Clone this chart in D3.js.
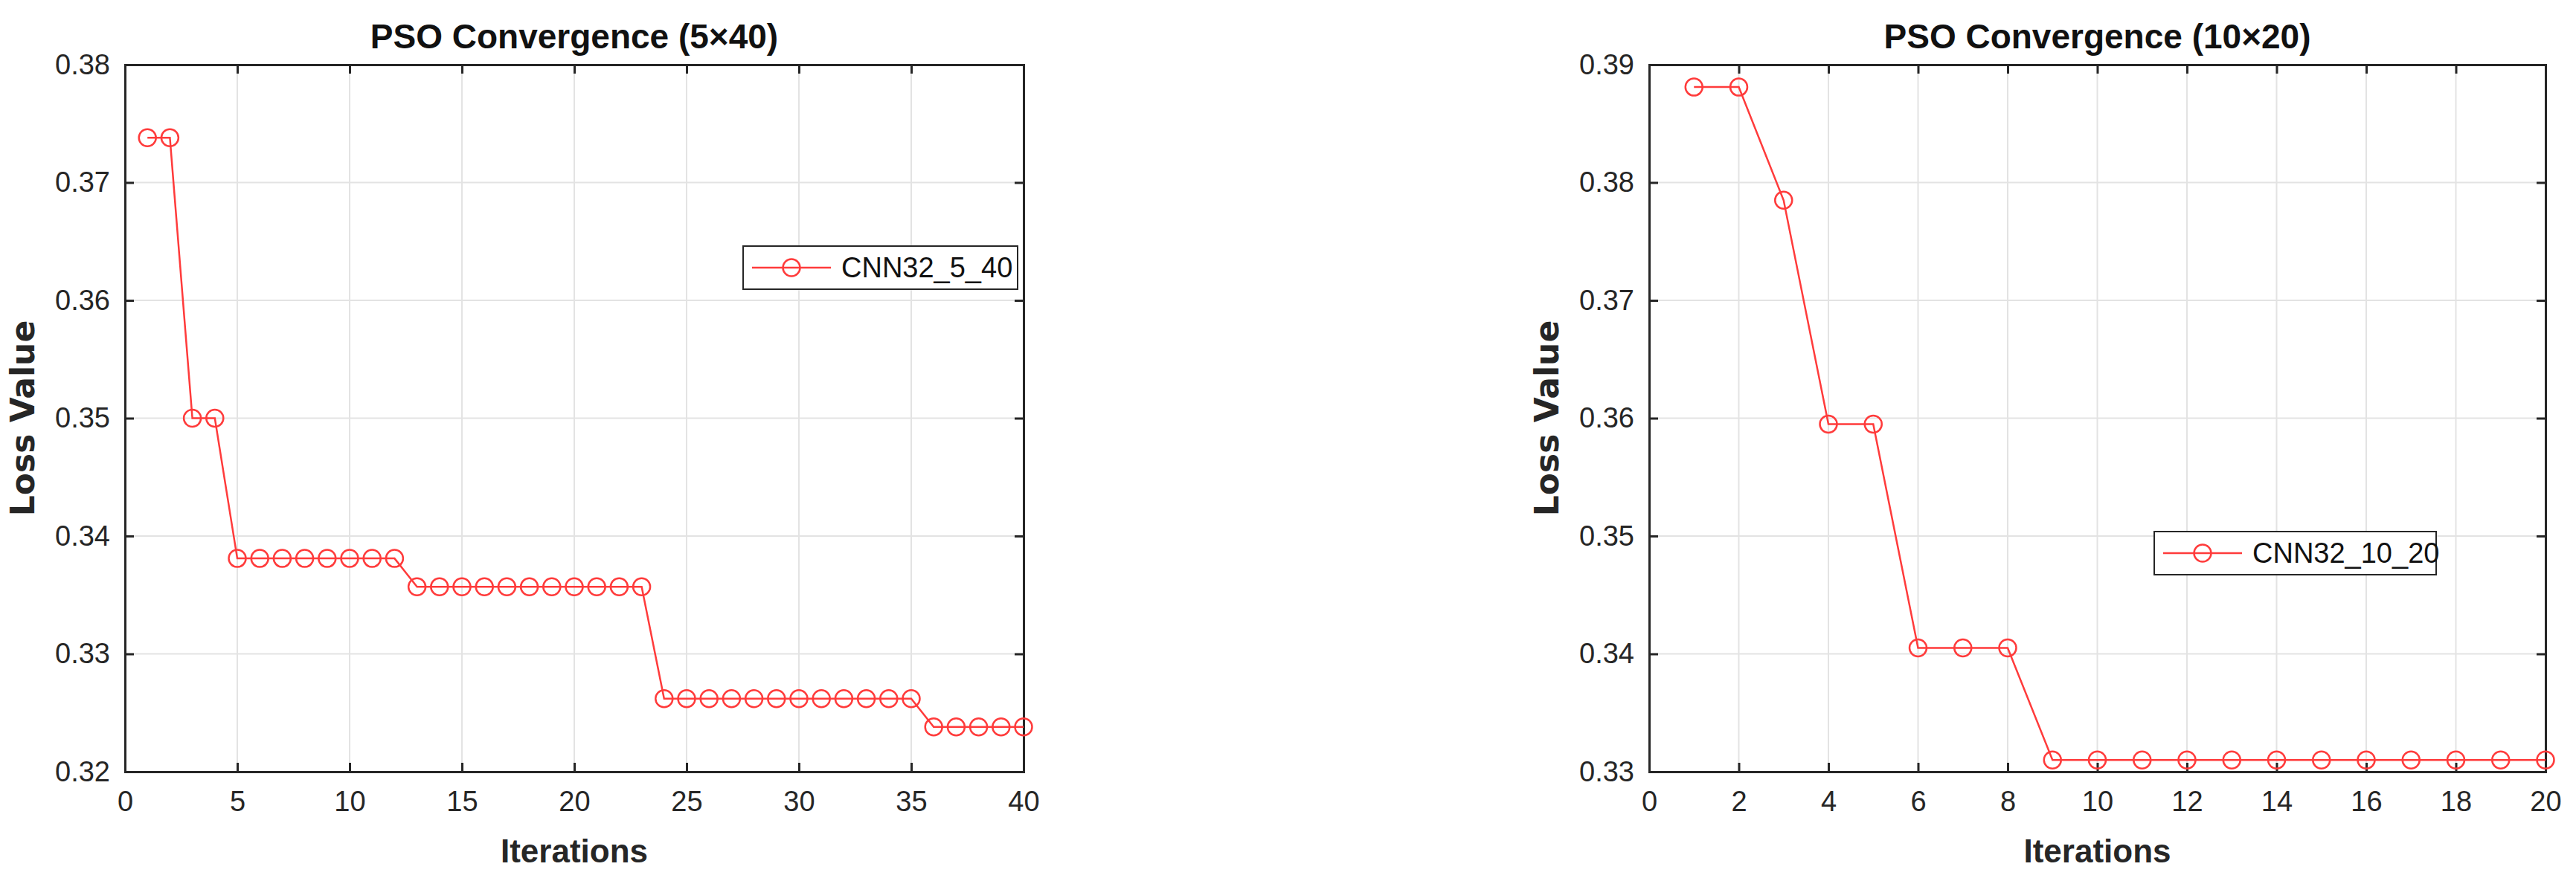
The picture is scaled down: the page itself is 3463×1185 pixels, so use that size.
<!DOCTYPE html>
<html><head><meta charset="utf-8">
<script src="https://cdn.jsdelivr.net/npm/d3@7"></script>
<style>body{margin:0;background:#fff}svg{display:block;font-family:"Liberation Sans",Arial,sans-serif}</style>
</head><body><svg id="c" width="3463" height="1185"></svg>
<script>
const iters1 = d3.range(1, 41);
const loss1 = [0.3738,0.3738,0.3500,0.3500,
  0.3381,0.3381,0.3381,0.3381,0.3381,0.3381,0.3381,0.3381,
  0.3357,0.3357,0.3357,0.3357,0.3357,0.3357,0.3357,0.3357,0.3357,0.3357,0.3357,
  0.3262,0.3262,0.3262,0.3262,0.3262,0.3262,0.3262,0.3262,0.3262,0.3262,0.3262,0.3262,
  0.3238,0.3238,0.3238,0.3238,0.3238];
const iters2 = d3.range(1, 21);
const loss2 = [0.3881,0.3881,0.3785,0.3595,0.3595,0.3405,0.3405,0.3405,
  0.3310,0.3310,0.3310,0.3310,0.3310,0.3310,0.3310,0.3310,0.3310,0.3310,0.3310,0.3310];
const xTicks1 = [0,5,10,15,20,25,30,35,40];
const yTicks1 = [0.32,0.33,0.34,0.35,0.36,0.37,0.38];
const xTicks2 = [0,2,4,6,8,10,12,14,16,18,20];
const yTicks2 = [0.33,0.34,0.35,0.36,0.37,0.38,0.39];

const svg = d3.select("#c");
function panel(cfg){
  const {x0,x1,y0,y1,xd,yd,xt,yt,xs,ys,title,name,leg} = cfg;
  const x = d3.scaleLinear().domain(xd).range([x0,x1]);
  const y = d3.scaleLinear().domain(yd).range([y1,y0]);
  const g = svg.append("g");
  g.selectAll(".gx").data(xt).join("line").attr("x1",d=>x(d)).attr("x2",d=>x(d)).attr("y1",y0).attr("y2",y1).attr("stroke","#e3e3e3").attr("stroke-width",2);
  g.selectAll(".gy").data(yt).join("line").attr("y1",d=>y(d)).attr("y2",d=>y(d)).attr("x1",x0).attr("x2",x1).attr("stroke","#e3e3e3").attr("stroke-width",2);
  const ax = g.append("g").attr("transform",`translate(0,${y1})`).call(d3.axisBottom(x).tickValues(xt).tickSize(-12).tickPadding(26).tickFormat(d3.format("d")));
  const ax2 = g.append("g").attr("transform",`translate(0,${y0})`).call(d3.axisTop(x).tickValues(xt).tickSize(-12).tickFormat(""));
  const ay = g.append("g").attr("transform",`translate(${x0},0)`).call(d3.axisLeft(y).tickValues(yt).tickSize(-12).tickPadding(20).tickFormat(d3.format(".2f")));
  const ay2 = g.append("g").attr("transform",`translate(${x1},0)`).call(d3.axisRight(y).tickValues(yt).tickSize(-12).tickFormat(""));
  [ax,ax2,ay,ay2].forEach(a=>{a.selectAll("path,line").attr("stroke","#262626").attr("stroke-width",3);a.selectAll("text").attr("fill","#262626").attr("font-size",38);});
  g.append("path").datum(xs.map((v,i)=>[v,ys[i]])).attr("fill","none").attr("stroke","#ff3b3b").attr("stroke-width",2.5)
    .attr("d",d3.line().x(d=>x(d[0])).y(d=>y(d[1])));
  g.selectAll(".m").data(xs.map((v,i)=>[v,ys[i]])).join("circle").attr("cx",d=>x(d[0])).attr("cy",d=>y(d[1])).attr("r",11.5).attr("fill","none").attr("stroke","#ff3b3b").attr("stroke-width",2.5);
  const cx=(x0+x1)/2;
  g.append("text").attr("x",cx).attr("y",65).attr("text-anchor","middle").attr("font-size",46).attr("font-weight","bold").attr("fill","#111").text(title);
  g.append("text").attr("x",cx).attr("y",1160).attr("text-anchor","middle").attr("font-size",44).attr("font-weight","bold").attr("fill","#262626").text("Iterations");
  g.append("text").attr("transform",`translate(${x0-122},${(y0+y1)/2}) rotate(-90)`).attr("text-anchor","middle").attr("font-size",44).attr("font-weight","bold").attr("font-family","'DejaVu Sans',sans-serif").attr("fill","#262626").text("Loss Value");
  const [lx,ly,lw,lh]=leg;
  g.append("rect").attr("x",lx).attr("y",ly).attr("width",lw).attr("height",lh).attr("fill","#fff").attr("stroke","#262626").attr("stroke-width",2);
  g.append("line").attr("x1",lx+12).attr("x2",lx+118).attr("y1",ly+lh/2).attr("y2",ly+lh/2).attr("stroke","#ff3b3b").attr("stroke-width",2.5);
  g.append("circle").attr("cx",lx+65).attr("cy",ly+lh/2).attr("r",11.5).attr("fill","none").attr("stroke","#ff3b3b").attr("stroke-width",2.5);
  g.append("text").attr("x",lx+132).attr("y",ly+lh/2+13).attr("font-size",38).attr("fill","#111").text(name);
}
panel({x0:168,x1:1376,y0:87,y1:1038,xd:[0,40],yd:[0.32,0.38],xt:xTicks1,yt:yTicks1,xs:iters1,ys:loss1,title:"PSO Convergence (5\u00d740)",name:"CNN32_5_40",leg:[999,331,369,58]});
panel({x0:2217,x1:3422,y0:87,y1:1038,xd:[0,20],yd:[0.33,0.39],xt:xTicks2,yt:yTicks2,xs:iters2,ys:loss2,title:"PSO Convergence (10\u00d720)",name:"CNN32_10_20",leg:[2896,715,379,58]});
</script></body></html>
